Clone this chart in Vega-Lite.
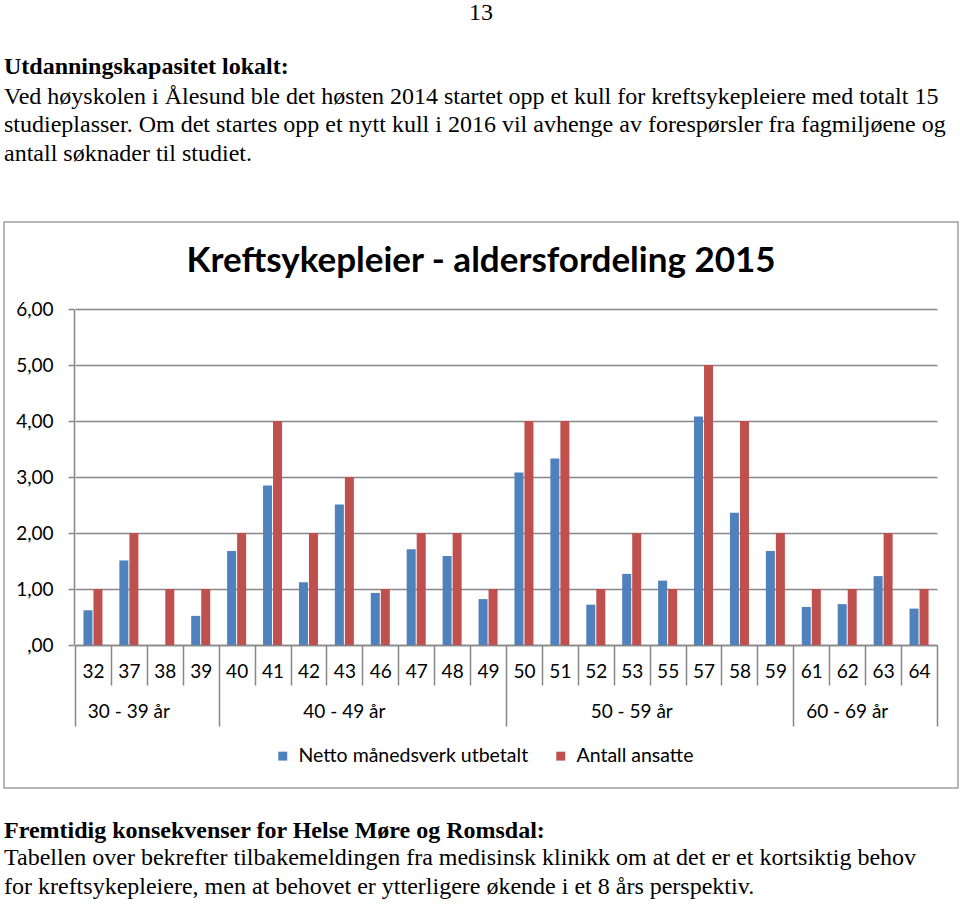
{
  "$schema": "https://vega.github.io/schema/vega-lite/v6.json",
  "background": "white",
  "padding": {"left": 3, "right": 0, "top": 0, "bottom": 0},
  "autosize": {"type": "pad"},
  "title": {"text": "13", "anchor": "middle", "frame": "group", "font": "Liberation Serif", "fontSize": 24, "fontWeight": "normal", "color": "#000", "offset": 30},
  "spacing": 30,
  "vconcat": [
    {
      "width": 954,
      "height": 1,
      "view": {"stroke": null},
      "title": {
        "text": "Utdanningskapasitet lokalt:",
        "subtitle": [
          "Ved høyskolen i Ålesund ble det høsten 2014 startet opp et kull for kreftsykepleiere med totalt 15",
          "studieplasser. Om det startes opp et nytt kull i 2016 vil avhenge av forespørsler fra fagmiljøene og",
          "antall søknader til studiet."
        ],
        "anchor": "start", "frame": "group", "offset": 14,
        "font": "Liberation Serif", "fontSize": 24, "fontWeight": "bold", "color": "#000",
        "subtitleFont": "Liberation Serif", "subtitleFontSize": 24, "subtitleFontWeight": "normal", "subtitleColor": "#000",
        "subtitleLineHeight": 28.5, "subtitlePadding": 6
      },
      "data": {"values": [{"t": ""}]},
      "mark": "text",
      "encoding": {"text": {"field": "t"}}
    },
    {
      "width": 954,
      "height": 566,
      "view": {"stroke": "#a0a0a0", "strokeWidth": 1.5},
      "title": {
        "text": "Kreftsykepleier - aldersfordeling 2015",
        "anchor": "middle", "frame": "group", "offset": -57,
        "font": "Lato", "fontSize": 35, "fontWeight": "bold", "color": "#000"
      },
      "data": {"values": [
        {"age": 32, "series": "Netto månedsverk utbetalt", "value": 0.62},
        {"age": 32, "series": "Antall ansatte", "value": 1},
        {"age": 37, "series": "Netto månedsverk utbetalt", "value": 1.51},
        {"age": 37, "series": "Antall ansatte", "value": 2},
        {"age": 38, "series": "Netto månedsverk utbetalt", "value": 0},
        {"age": 38, "series": "Antall ansatte", "value": 1},
        {"age": 39, "series": "Netto månedsverk utbetalt", "value": 0.52},
        {"age": 39, "series": "Antall ansatte", "value": 1},
        {"age": 40, "series": "Netto månedsverk utbetalt", "value": 1.68},
        {"age": 40, "series": "Antall ansatte", "value": 2},
        {"age": 41, "series": "Netto månedsverk utbetalt", "value": 2.85},
        {"age": 41, "series": "Antall ansatte", "value": 4},
        {"age": 42, "series": "Netto månedsverk utbetalt", "value": 1.12},
        {"age": 42, "series": "Antall ansatte", "value": 2},
        {"age": 43, "series": "Netto månedsverk utbetalt", "value": 2.51},
        {"age": 43, "series": "Antall ansatte", "value": 3},
        {"age": 46, "series": "Netto månedsverk utbetalt", "value": 0.93},
        {"age": 46, "series": "Antall ansatte", "value": 1},
        {"age": 47, "series": "Netto månedsverk utbetalt", "value": 1.71},
        {"age": 47, "series": "Antall ansatte", "value": 2},
        {"age": 48, "series": "Netto månedsverk utbetalt", "value": 1.59},
        {"age": 48, "series": "Antall ansatte", "value": 2},
        {"age": 49, "series": "Netto månedsverk utbetalt", "value": 0.82},
        {"age": 49, "series": "Antall ansatte", "value": 1},
        {"age": 50, "series": "Netto månedsverk utbetalt", "value": 3.08},
        {"age": 50, "series": "Antall ansatte", "value": 4},
        {"age": 51, "series": "Netto månedsverk utbetalt", "value": 3.33},
        {"age": 51, "series": "Antall ansatte", "value": 4},
        {"age": 52, "series": "Netto månedsverk utbetalt", "value": 0.72},
        {"age": 52, "series": "Antall ansatte", "value": 1},
        {"age": 53, "series": "Netto månedsverk utbetalt", "value": 1.27},
        {"age": 53, "series": "Antall ansatte", "value": 2},
        {"age": 55, "series": "Netto månedsverk utbetalt", "value": 1.15},
        {"age": 55, "series": "Antall ansatte", "value": 1},
        {"age": 57, "series": "Netto månedsverk utbetalt", "value": 4.08},
        {"age": 57, "series": "Antall ansatte", "value": 5},
        {"age": 58, "series": "Netto månedsverk utbetalt", "value": 2.36},
        {"age": 58, "series": "Antall ansatte", "value": 4},
        {"age": 59, "series": "Netto månedsverk utbetalt", "value": 1.68},
        {"age": 59, "series": "Antall ansatte", "value": 2},
        {"age": 61, "series": "Netto månedsverk utbetalt", "value": 0.68},
        {"age": 61, "series": "Antall ansatte", "value": 1},
        {"age": 62, "series": "Netto månedsverk utbetalt", "value": 0.73},
        {"age": 62, "series": "Antall ansatte", "value": 1},
        {"age": 63, "series": "Netto månedsverk utbetalt", "value": 1.23},
        {"age": 63, "series": "Antall ansatte", "value": 2},
        {"age": 64, "series": "Netto månedsverk utbetalt", "value": 0.65},
        {"age": 64, "series": "Antall ansatte", "value": 1}
      ]},
      "layer": [
        {
          "mark": {"type": "bar"},
          "encoding": {
            "x": {
              "field": "age", "type": "nominal",
              "sort": [32,37,38,39,40,41,42,43,46,47,48,49,50,51,52,53,55,57,58,59,61,62,63,64],
              "scale": {"range": [71, 933], "paddingInner": 0, "paddingOuter": 0},
              "axis": {
                "orient": "bottom", "offset": -143, "title": null, "labelAngle": 0,
                "tickBand": "extent",
                "tickSize": {"condition": {"test": "datum.extra || datum.value == 39 || datum.value == 49 || datum.value == 59 || datum.value == 64", "value": 81}, "value": 40},
                "labelPadding": {"condition": {"test": "datum.value == 39 || datum.value == 49 || datum.value == 59 || datum.value == 64", "value": -64}, "value": -23},
                "labelFontSize": 19, "labelFont": "Lato", "labelColor": "#000",
                "domainColor": "#878787", "tickColor": "#878787", "domainWidth": 1.5, "tickWidth": 1.5, "grid": false
              }
            },
            "xOffset": {
              "field": "series", "type": "nominal",
              "sort": ["Netto månedsverk utbetalt", "Antall ansatte"],
              "scale": {"paddingInner": 0.1, "paddingOuter": 0.845}
            },
            "y": {
              "field": "value", "type": "quantitative",
              "scale": {"domain": [0, 6], "range": [423, 87], "nice": false, "zero": true},
              "axis": {
                "title": null, "offset": -70, "values": [0,1,2,3,4,5,6],
                "labelExpr": "datum.value == 0 ? ',00' : replace(format(datum.value, '.2f'), '.', ',')",
                "labelFontSize": 19, "labelFont": "Lato", "labelColor": "#000", "labelPadding": 15,
                "tickSize": 6, "tickColor": "#878787", "tickWidth": 1.5,
                "domainColor": "#878787", "domainWidth": 1.5,
                "grid": true, "gridColor": "#878787", "gridWidth": 1.5
              }
            },
            "color": {
              "field": "series", "type": "nominal",
              "scale": {"domain": ["Netto månedsverk utbetalt", "Antall ansatte"], "range": ["#4F81BD", "#C0504D"]},
              "legend": {
                "orient": "none", "legendX": 269, "legendY": 561, "direction": "horizontal", "title": null,
                "symbolType": "square", "symbolSize": 80, "symbolStrokeWidth": 0,
                "labelFont": "Lato", "labelFontSize": 19.5, "labelColor": "#000", "labelOffset": 6, "columnPadding": 22, "labelLimit": 0
              }
            }
          }
        },
        {
          "mark": {"type": "rule", "opacity": 0},
          "encoding": {
            "x": {
              "field": "age", "type": "nominal",
              "sort": [32,37,38,39,40,41,42,43,46,47,48,49,50,51,52,53,55,57,58,59,61,62,63,64],
              "axis": {
                "orient": "bottom", "offset": -143, "title": null, "labelAngle": 0,
                "values": [37, 43, 53, 62], "bandPosition": 1,
                "ticks": false, "domain": false, "grid": false,
                "labelExpr": "datum.value == 37 ? '30 - 39 år' : datum.value == 43 ? '40 - 49 år' : datum.value == 53 ? '50 - 59 år' : '60 - 69 år'",
                "labelPadding": 57, "labelFontSize": 19, "labelFont": "Lato", "labelColor": "#000"
              }
            }
          }
        }
      ],
      "resolve": {"axis": {"x": "independent"}}
    },
    {
      "width": 954,
      "height": 1,
      "view": {"stroke": null},
      "title": {
        "text": "Fremtidig konsekvenser for Helse Møre og Romsdal:",
        "subtitle": [
          "Tabellen over bekrefter tilbakemeldingen fra medisinsk klinikk om at det er et kortsiktig behov",
          "for kreftsykepleiere, men at behovet er ytterligere økende i et 8 års perspektiv."
        ],
        "anchor": "start", "frame": "group", "offset": 0,
        "font": "Liberation Serif", "fontSize": 24, "fontWeight": "bold", "color": "#000",
        "subtitleFont": "Liberation Serif", "subtitleFontSize": 24, "subtitleFontWeight": "normal", "subtitleColor": "#000",
        "subtitleLineHeight": 28.5, "subtitlePadding": 3
      },
      "data": {"values": [{"t": ""}]},
      "mark": "text",
      "encoding": {"text": {"field": "t"}}
    }
  ],
  "config": {
    "view": {"stroke": null},
    "font": "Lato"
  }
}
